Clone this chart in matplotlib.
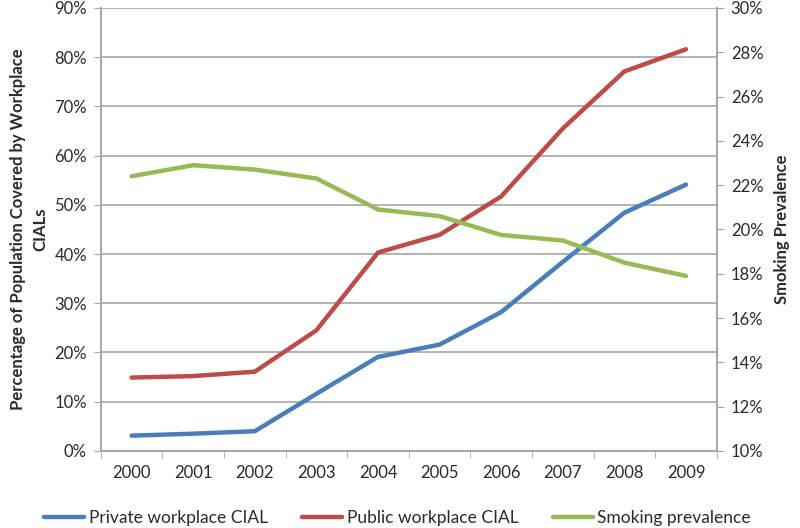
import matplotlib
matplotlib.use("Agg")
import matplotlib.pyplot as plt
from matplotlib.ticker import FixedLocator, PercentFormatter

years = ["2000", "2001", "2002", "2003", "2004", "2005", "2006", "2007", "2008", "2009"]
private_cial = [3.1, 3.5, 4.0, 11.6, 19.1, 21.6, 28.2, 38.4, 48.4, 54.1]
public_cial = [14.9, 15.2, 16.1, 24.5, 40.3, 43.9, 51.7, 65.5, 77.1, 81.6]
smoking = [22.4, 22.9, 22.7, 22.3, 20.9, 20.6, 19.75, 19.5, 18.5, 17.9]

plt.rcParams['font.family'] = ['Lato', 'DejaVu Sans']
text_color = "#2a2a2a"
grid_color = "#A6A6A6"
fs = 12

fig = plt.figure(figsize=(8, 5.28), dpi=100)
ax = fig.add_axes([0.126, 0.146, 0.77, 0.839])
ax2 = ax.twinx()

x = list(range(len(years)))
l1, = ax.plot(x, private_cial, color="#4A7EBB", lw=3.2, solid_capstyle="round", label="Private workplace CIAL")
l2, = ax.plot(x, public_cial, color="#BE4B48", lw=3.2, solid_capstyle="round", label="Public workplace CIAL")
l3, = ax2.plot(x, smoking, color="#98B954", lw=3.2, solid_capstyle="round", label="Smoking prevalence")

ax.set_xlim(-0.5, len(years) - 0.5)
ax.set_ylim(0, 90)
ax2.set_ylim(10, 30)
ax.set_yticks(range(0, 91, 10))
ax2.set_yticks(range(10, 31, 2))
ax.yaxis.set_major_formatter(PercentFormatter(decimals=0))
ax2.yaxis.set_major_formatter(PercentFormatter(decimals=0))

ax.set_xticks(x)
ax.set_xticklabels(years)
ax.tick_params(axis="x", which="major", length=0, pad=10, labelsize=fs, colors=text_color)
ax.xaxis.set_minor_locator(FixedLocator([i - 0.5 for i in range(len(years) + 1)]))
ax.tick_params(axis="x", which="minor", length=5, color=grid_color, direction="out")
ax.tick_params(axis="y", length=5, color=grid_color, labelsize=fs, labelcolor=text_color, pad=5)
ax2.tick_params(axis="y", length=5, color=grid_color, labelsize=fs, labelcolor=text_color, pad=5)

ax.grid(axis="y", color=grid_color, lw=1.2)
ax.set_axisbelow(True)
for a in (ax, ax2):
    a.spines["top"].set_visible(False)
    for s in ("left", "right", "bottom"):
        a.spines[s].set_color(grid_color)
        a.spines[s].set_linewidth(1.2)

ax.set_ylabel("Percentage of Population Covered by Workplace\nCIALs", fontsize=fs,
              fontweight="bold", color=text_color, labelpad=4, linespacing=1.5)
ax2.set_ylabel("Smoking Prevalence", fontsize=fs, fontweight="bold", color=text_color,
               rotation=90, labelpad=8)

fig.legend(handles=[l1, l2, l3], loc="center", bbox_to_anchor=(0.497, 0.018), ncol=3,
           frameon=False, fontsize=12.5, handlelength=2.3, handletextpad=0.25,
           columnspacing=2.0, labelcolor=text_color)

fig.savefig("out.png", dpi=100)
